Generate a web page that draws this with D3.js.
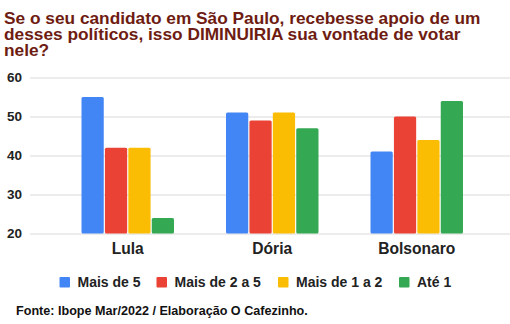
<!DOCTYPE html>
<html><head><meta charset="utf-8">
<script src="https://cdn.jsdelivr.net/npm/d3@7"></script>
<style>body{margin:0;background:#fff}svg{display:block;font-family:"Liberation Sans",Arial,sans-serif}</style>
</head><body><svg id="c" width="510" height="324"></svg>
<script>
const categories = ["Lula", "Dória", "Bolsonaro"];
const seriesNames = ["Mais de 5", "Mais de 2 a 5", "Mais de 1 a 2", "Até 1"];
const maisDe5 = [55, 51, 41];
const maisDe2a5 = [42, 49, 50];
const maisDe1a2 = [42, 51, 44];
const ate1 = [24, 47, 54];
const yTicks = [20, 30, 40, 50, 60];
const titleLines = ["Se o seu candidato em São Paulo, recebesse apoio de um", "desses políticos, isso DIMINUIRIA sua vontade de votar", "nele?"];
const sourceText = "Fonte: Ibope Mar/2022 / Elaboração O Cafezinho.";
const colors = ["#4285f4", "#ea4335", "#fbbc04", "#34a853"];

const series = [maisDe5, maisDe2a5, maisDe1a2, ate1];
const svg = d3.select("#c");

svg.append("g").selectAll("text").data(titleLines).join("text")
  .attr("x", 4).attr("y", (d,i)=>24+i*16.2)
  .attr("font-size", 17.3).attr("font-weight", "bold").attr("fill", "#6e1c12")
  .text(d=>d);

const y = d3.scaleLinear().domain([20, 60]).range([233.5, 77.5]);
const x0 = d3.scaleBand().domain(categories).range([55.5, 489]).paddingInner(0.36).paddingOuter(0.18);
const x1 = d3.scaleBand().domain(d3.range(4)).range([0, x0.bandwidth()]).paddingInner(0.05);

const yAxis = d3.axisLeft(y).tickValues(yTicks).tickSize(-480).tickPadding(8);
const ga = svg.append("g").attr("transform", "translate(30,0)").call(yAxis);
ga.select(".domain").remove();
ga.selectAll(".tick line").attr("stroke", "#e6e6e6").attr("stroke-width", 1.5);
ga.selectAll(".tick text").attr("font-size", 13.5).attr("font-weight", "bold").attr("fill", "#222").attr("font-family", "Liberation Sans, Arial, sans-serif");

const g = svg.append("g");
categories.forEach((c, ci) => {
  g.selectAll(null).data(series.map((s, si)=>({si, v:s[ci]}))).join("rect")
    .attr("x", d=>x0(c)+x1(d.si)).attr("width", x1.bandwidth())
    .attr("y", d=>y(d.v)).attr("height", d=>y(20)-y(d.v))
    .attr("rx", 1.5).attr("fill", d=>colors[d.si]);
});

const xAxis = d3.axisBottom(x0).tickSize(0).tickPadding(9);
const gx = svg.append("g").attr("transform", "translate(0,233.5)").call(xAxis);
gx.select(".domain").remove();
gx.selectAll(".tick text").attr("font-size", 15.6).attr("font-weight", "bold").attr("fill", "#222").attr("font-family", "Liberation Sans, Arial, sans-serif");

const legendX = [59.5, 156.5, 278, 399];
const lg = svg.append("g").selectAll("g").data(seriesNames).join("g")
  .attr("transform", (d,i)=>`translate(${legendX[i]},277)`);
lg.append("rect").attr("width", 10.5).attr("height", 10.5).attr("rx", 1).attr("fill", (d,i)=>colors[i]);
lg.append("text").attr("x", 18).attr("y", 10).attr("font-size", 14).attr("font-weight", "bold").attr("fill", "#222").text(d=>d);

svg.append("text").attr("x", 16).attr("y", 315).attr("font-size", 12.6).attr("font-weight", "bold").attr("fill", "#111").text(sourceText);
</script></body></html>
